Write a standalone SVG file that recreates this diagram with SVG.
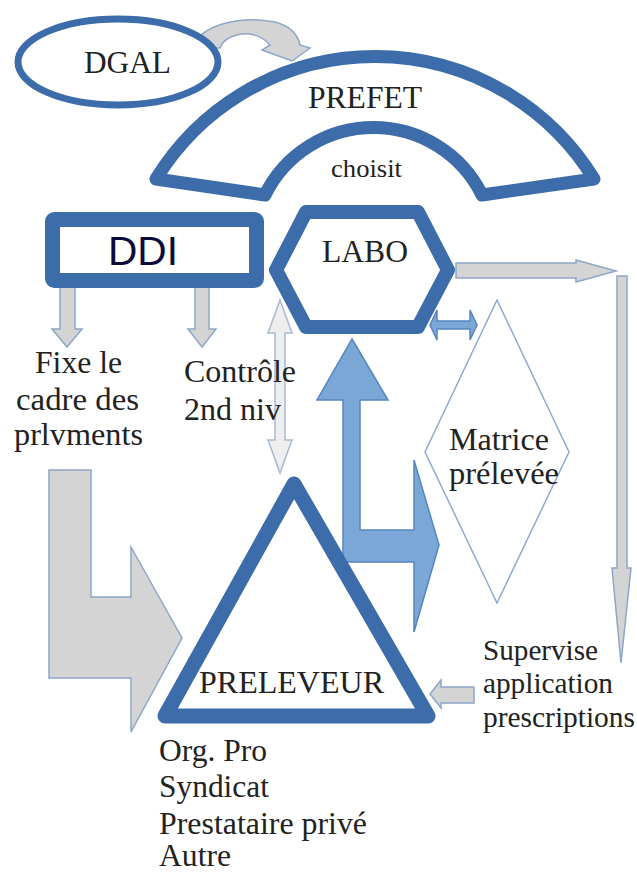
<svg xmlns="http://www.w3.org/2000/svg" width="637" height="874" viewBox="0 0 637 874">
<style>
.bl{fill:#fff;stroke:#3d6cab;stroke-linejoin:round}
.gr{fill:#d4d4d4;stroke:#8ea6c8;stroke-width:1.5;stroke-linejoin:miter}
.lb{fill:#7aa7d6;stroke:#5585c2;stroke-width:1.5}
.t{font-family:"Liberation Serif","Times New Roman",serif;font-size:31px;fill:#222}
</style>
<rect width="637" height="874" fill="#fff"/>
<g id="connectors">
  <path class="gr" d="M192,48 C200,25 240,15 275,22 C290,26 298,35 300,45 L310,48 L292,61 L262,50 L270,45 C262,35 248,32 237,35 C228,37 222,42 220,48 Z"/>
  <path class="gr" d="M60,285 L75,285 L75,329 L82,329 L67,347 L52,329 L60,329 Z"/>
  <path class="gr" d="M195,285 L209,285 L209,329 L216,329 L202,347 L188,329 L195,329 Z"/>
  <path class="gr" d="M456,263 L576,263 L576,260 L616,271 L576,282 L576,278 L456,278 Z"/>
  <path class="gr" d="M617,276 L627,276 L627,568 L631,568 L621,663 L612,568 L617,568 Z"/>
  <path d="M280,300 L292,333 L285,333 L285,440 L292,440 L280,473 L268,440 L275,440 L275,333 L268,333 Z" fill="#eeeeee" stroke="#a9b9d2" stroke-width="1.5"/>
  <path class="lb" d="M430,325 L437,310 L437,321 L470,321 L470,310 L477,325 L470,340 L470,329 L437,329 L437,340 Z"/>
  <path class="lb" d="M352,339 L388,400 L360,400 L360,530 L414,530 L414,460 L439,545 L414,632 L414,562 L343,562 L343,400 L317,400 Z"/>
  <path class="gr" d="M49,470 L91,470 L91,597 L131,597 L131,547 L182,638 L131,732 L131,678 L49,678 Z"/>
  <path class="gr" d="M474,687 L474,703 L441,703 L441,708 L430,694 L441,680 L441,687 Z"/>
</g>
<g id="dgal">
  <ellipse class="bl" cx="118" cy="62" rx="100" ry="43" stroke-width="7"/>
  <text class="t" x="84" y="73" textLength="87" lengthAdjust="spacingAndGlyphs">DGAL</text>
</g>
<g id="prefet">
  <path class="bl" stroke-width="13" d="M156,179 A257,257 0 0 1 594,179 L482,195 A121,121 0 0 0 265,195 Z"/>
  <text class="t" x="308" y="108" textLength="114" lengthAdjust="spacingAndGlyphs">PREFET</text>
  <text class="t" x="331" y="177" style="font-size:25px" textLength="71" lengthAdjust="spacingAndGlyphs">choisit</text>
</g>
<g id="ddi">
  <rect class="bl" x="52.5" y="219.5" width="204" height="61" rx="2" stroke-width="15"/>
  <text x="108" y="265" font-family="Liberation Sans, Arial, sans-serif" font-size="40" fill="#0b0b3b" textLength="70" lengthAdjust="spacingAndGlyphs">DDI</text>
</g>
<g id="labo">
  <path class="bl" stroke-width="14" d="M276,270 L306,212 L418,212 L448,270 L418,327 L306,327 Z"/>
  <text class="t" x="322" y="262" textLength="86" lengthAdjust="spacingAndGlyphs">LABO</text>
</g>
<g id="matrice">
  <path d="M497,300 L569,452 L497,603 L425,452 Z" fill="none" stroke="#8eaad4" stroke-width="1.5"/>
  <text class="t" x="449" y="450" textLength="100" lengthAdjust="spacingAndGlyphs">Matrice</text>
  <text class="t" x="449" y="484" textLength="110" lengthAdjust="spacingAndGlyphs">prélevée</text>
</g>
<g id="preleveur">
  <path class="bl" stroke-width="15" d="M294,484 L428,716 L165,716 Z"/>
  <text class="t" x="199" y="693" textLength="185" lengthAdjust="spacingAndGlyphs">PRELEVEUR</text>
</g>
<g id="labels">
  <text class="t" x="35" y="373" textLength="87" lengthAdjust="spacingAndGlyphs">Fixe le</text>
  <text class="t" x="16" y="410" textLength="123" lengthAdjust="spacingAndGlyphs">cadre des</text>
  <text class="t" x="14" y="445" textLength="129" lengthAdjust="spacingAndGlyphs">prlvments</text>
  <text class="t" x="184" y="382" textLength="112" lengthAdjust="spacingAndGlyphs">Contrôle</text>
  <text class="t" x="184" y="420" textLength="97" lengthAdjust="spacingAndGlyphs">2nd niv</text>
  <text class="t" x="483" y="660" style="font-size:29px" textLength="115" lengthAdjust="spacingAndGlyphs">Supervise</text>
  <text class="t" x="483" y="693" style="font-size:29px" textLength="130" lengthAdjust="spacingAndGlyphs">application</text>
  <text class="t" x="483" y="727" style="font-size:29px" textLength="152" lengthAdjust="spacingAndGlyphs">prescriptions</text>
  <text class="t" x="159" y="761" textLength="108" lengthAdjust="spacingAndGlyphs">Org. Pro</text>
  <text class="t" x="159" y="797" textLength="110" lengthAdjust="spacingAndGlyphs">Syndicat</text>
  <text class="t" x="159" y="834" textLength="208" lengthAdjust="spacingAndGlyphs">Prestataire privé</text>
  <text class="t" x="159" y="866" textLength="72" lengthAdjust="spacingAndGlyphs">Autre</text>
</g>
</svg>
